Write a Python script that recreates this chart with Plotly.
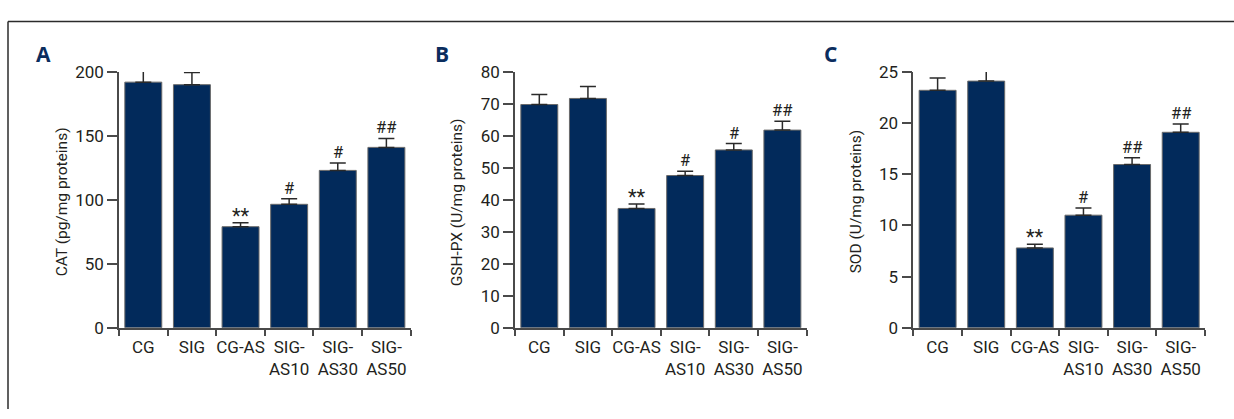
import plotly.graph_objects as go

# Groups and measured antioxidant levels (mean and upper SD)
categories = ["CG", "SIG", "CG-AS", "SIG-<br>AS10", "SIG-<br>AS30", "SIG-<br>AS50"]

cat_mean = [192, 190, 79, 96.5, 123, 141]
cat_sd = [9, 9.5, 3, 4.3, 5.8, 7]
cat_sig = ["", "", "**", "#", "#", "##"]

gsh_mean = [69.8, 71.7, 37.3, 47.6, 55.6, 61.8]
gsh_sd = [3.1, 3.7, 1.4, 1.3, 2.0, 2.8]
gsh_sig = ["", "", "**", "#", "#", "##"]

sod_mean = [23.2, 24.1, 7.8, 11.0, 15.95, 19.1]
sod_sd = [1.2, 1.2, 0.36, 0.7, 0.65, 0.8]
sod_sig = ["", "", "**", "#", "##", "##"]

W, H = 1234, 419
NAVY = "#022a5b"
AXIS = "#4a4a4a"
TEXT = "#231f20"
FONT = "Roboto, Liberation Sans, sans-serif"

panels = [
    dict(letter="A", mean=cat_mean, sd=cat_sd, sig=cat_sig, ymax=200, dtick=50,
         title="CAT (pg/mg proteins)", x0=119, x1=410.7, tx=62, lx=43),
    dict(letter="B", mean=gsh_mean, sd=gsh_sd, sig=gsh_sig, ymax=80, dtick=10,
         title="GSH-PX (U/mg proteins)", x0=515, x1=806.7, tx=457, lx=442),
    dict(letter="C", mean=sod_mean, sd=sod_sd, sig=sod_sig, ymax=25, dtick=5,
         title="SOD (U/mg proteins)", x0=913.3, x1=1205, tx=856, lx=830),
]

y_bot, y_top = 333.7, 65.0  # pixel rows of the value axis ends

fig = go.Figure()
annotations = []

for i, p in enumerate(panels, start=1):
    xa = "x" if i == 1 else f"x{i}"
    ya = "y" if i == 1 else f"y{i}"
    fig.add_trace(go.Bar(
        x=categories, y=p["mean"], xaxis=xa, yaxis=ya,
        marker=dict(color=NAVY, line=dict(color="#6a6a6a", width=1)),
        error_y=dict(type="data", array=p["sd"], arrayminus=[0] * len(p["sd"]),
                     symmetric=False, color="#2a2a2a", thickness=1.5, width=8),
        showlegend=False,
    ))
    dom_x = [p["x0"] / W, p["x1"] / W]
    dom_y = [1 - y_bot / H, 1 - y_top / H]
    xkey = "xaxis" if i == 1 else f"xaxis{i}"
    ykey = "yaxis" if i == 1 else f"yaxis{i}"
    fig.update_layout(**{
        xkey: dict(domain=dom_x, anchor=ya, type="category", range=[-0.5, 5.5],
                   showline=True, linecolor=AXIS, linewidth=1.5,
                   ticks="outside", tickson="boundaries", ticklen=6, tickangle=0,
                   ticklabelstandoff=3,
                   tickcolor=AXIS, tickwidth=1.5, showgrid=False, zeroline=False,
                   tickfont=dict(family=FONT, size=17, color=TEXT), fixedrange=True),
        ykey: dict(domain=dom_y, anchor=xa, range=[0, p["ymax"]], dtick=p["dtick"],
                   showline=True, linecolor=AXIS, linewidth=1.5,
                   ticks="outside", ticklen=10, tickcolor=AXIS, tickwidth=1.5,
                   showgrid=False, zeroline=False,
                   tickfont=dict(family=FONT, size=17, color=TEXT), fixedrange=True),
    })
    # axis title
    annotations.append(dict(
        text=p["title"], xref="paper", yref="paper", x=p["tx"] / W, y=1 - 202 / H,
        textangle=-90, showarrow=False, xanchor="center", yanchor="middle",
        font=dict(family=FONT, size=15.5, color=TEXT)))
    # panel letter
    annotations.append(dict(
        text=f"<b>{p['letter']}</b>", xref="paper", yref="paper",
        x=p["lx"] / W, y=1 - 46 / H, showarrow=False, xanchor="center", yanchor="middle",
        font=dict(family="Open Sans, Noto Sans, sans-serif", size=21, color="#0b2d5e")))
    # significance marks
    for c, m, s, mark in zip(categories, p["mean"], p["sd"], p["sig"]):
        if mark:
            annotations.append(dict(
                text=mark, xref=xa, yref=ya, x=c, y=m + s, showarrow=False,
                xanchor="center", yanchor="bottom",
                yshift=-7 if mark == "**" else -1,
                font=dict(family=FONT, size=20 if mark == "**" else 16.5, color=TEXT)))

# frame lines along the top and left of the figure
shapes = [
    dict(type="line", xref="paper", yref="paper", x0=8 / W, x1=1.0, y0=1 - 12 / H, y1=1 - 12 / H,
         line=dict(color="#2b2b2b", width=1.5)),
    dict(type="line", xref="paper", yref="paper", x0=8 / W, x1=8 / W, y0=0, y1=1 - 12 / H,
         line=dict(color="#2b2b2b", width=1.5)),
]

fig.update_layout(
    width=W, height=H, margin=dict(l=0, r=0, t=0, b=0),
    paper_bgcolor="white", plot_bgcolor="white",
    bargap=0.24, annotations=annotations, shapes=shapes,
    font=dict(family=FONT, color=TEXT),
)

fig.write_html("out.html")
